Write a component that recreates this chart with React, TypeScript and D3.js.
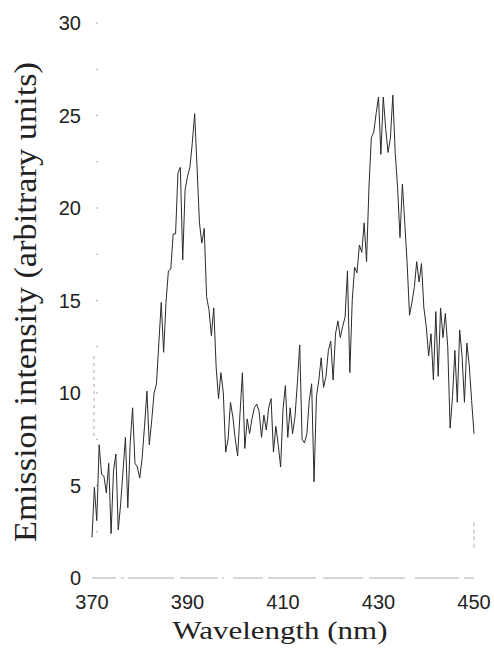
import { useEffect, useRef } from 'react';
import * as d3 from 'd3';

const width = 494;
const height = 649;

// wavelength grid (nm), one reading every 0.5 nm
const wavelengths = d3.range(370, 450.01, 0.5);

// emission intensity (arbitrary units)
const intensity = [
  2.2, 4.9, 3.1, 7.2, 5.6, 5.5, 4.6, 6.2, 2.4, 5.8, // 370 - 374.5
  6.7, 2.6, 4.0, 5.8, 7.6, 3.8, 7.3, 9.2, 6.2, 6.0, // 375 - 379.5
  5.4, 6.5, 8.2, 10.1, 7.2, 8.5, 10.0, 10.5, 12.7, 14.9, // 380 - 384.5
  12.2, 14.9, 16.6, 16.7, 18.6, 18.6, 21.9, 22.2, 17.2, 21.0, // 385 - 389.5
  21.7, 22.2, 23.5, 25.1, 22.2, 19.2, 18.1, 18.9, 15.2, 14.5, // 390 - 394.5
  13.1, 14.6, 11.4, 9.7, 11.1, 10.0, 6.8, 7.5, 9.5, 8.7, // 395 - 399.5
  7.5, 6.6, 8.9, 11.1, 7.0, 8.6, 7.8, 8.6, 9.2, 9.4, // 400 - 404.5
  9.0, 7.6, 8.8, 8.0, 9.2, 9.7, 6.8, 8.2, 7.2, 6.0, // 405 - 409.5
  9.1, 10.4, 7.6, 9.2, 7.8, 8.7, 10.5, 12.6, 7.5, 7.3, // 410 - 414.5
  7.8, 9.6, 10.5, 5.2, 9.8, 10.7, 11.9, 10.3, 10.9, 12.3, // 415 - 419.5
  12.8, 10.7, 13.2, 13.9, 13.0, 13.6, 14.1, 16.6, 11.1, 15.0, // 420 - 424.5
  16.8, 16.5, 18.0, 17.6, 19.2, 17.1, 21.1, 23.8, 24.1, 25.1, // 425 - 429.5
  26.0, 22.9, 26.0, 24.3, 23.0, 23.8, 26.1, 23.0, 21.1, 18.4, // 430 - 434.5
  21.3, 19.2, 17.0, 14.2, 14.9, 15.7, 17.1, 16.0, 17.0, 14.6, // 435 - 439.5
  13.6, 12.0, 13.2, 10.7, 14.4, 10.9, 14.6, 13.0, 14.3, 12.5, // 440 - 444.5
  8.1, 9.8, 12.3, 9.5, 13.4, 12.0, 9.5, 12.7, 11.5, 9.6, // 445 - 449.5
  7.8, // 450
];

const xTicks = [370, 390, 410, 430, 450];
const yTicks = [0, 5, 10, 15, 20, 25, 30];
const yMinorTicks = [2.5, 7.5, 12.5, 17.5, 22.5, 27.5];

const xTitle = 'Wavelength (nm)';
const yTitle = 'Emission intensity (arbitrary units)';

const App = () => {
  const svgRef = useRef(null);

  useEffect(() => {
    const svg = d3.select(svgRef.current);
    svg.selectAll('*').remove();

    const x = d3.scaleLinear().domain([370, 450]).range([92, 474]);
    const y = d3.scaleLinear().domain([0, 30]).range([578, 23]);

    const data = wavelengths.map((w, i) => ({ w, v: intensity[i] }));

    // faint, broken frame lines like the scanned original
    svg.append('line')
      .attr('x1', x(370)).attr('x2', x(450))
      .attr('y1', y(0)).attr('y2', y(0))
      .attr('stroke', '#999')
      .attr('stroke-width', 0.8)
      .attr('stroke-dasharray', '24 5 3 4 46 6 38 4 2 9 30 5 48 7 40 6 36 10 44 5');

    svg.append('line')
      .attr('x1', x(370) + 2).attr('x2', x(370) + 2)
      .attr('y1', y(12)).attr('y2', y(7.5))
      .attr('stroke', '#aaa')
      .attr('stroke-dasharray', '3 4');

    svg.append('line')
      .attr('x1', x(450)).attr('x2', x(450))
      .attr('y1', y(3)).attr('y2', y(1.5))
      .attr('stroke', '#aaa')
      .attr('stroke-dasharray', '4 3');

    // small left tick marks
    svg.selectAll('.ytick')
      .data(yTicks.concat(yMinorTicks).filter(d => d > 0))
      .enter().append('line')
      .attr('class', 'ytick')
      .attr('x1', x(370) + 4).attr('x2', x(370) + 6)
      .attr('y1', d => y(d)).attr('y2', d => y(d))
      .attr('stroke', '#aaa');

    // tick labels
    svg.selectAll('.ylabel')
      .data(yTicks)
      .enter().append('text')
      .attr('class', 'ylabel')
      .attr('x', 81)
      .attr('y', d => y(d))
      .attr('dy', '0.36em')
      .attr('text-anchor', 'end')
      .attr('font-family', 'Liberation Sans, Arial, sans-serif')
      .attr('font-size', '20px')
      .attr('fill', '#222')
      .text(d => d);

    svg.selectAll('.xlabel')
      .data(xTicks)
      .enter().append('text')
      .attr('class', 'xlabel')
      .attr('x', d => x(d))
      .attr('y', 609)
      .attr('text-anchor', 'middle')
      .attr('font-family', 'Liberation Sans, Arial, sans-serif')
      .attr('font-size', '20px')
      .attr('fill', '#222')
      .text(d => d);

    // axis titles
    svg.append('text')
      .attr('x', 280)
      .attr('y', 639)
      .attr('text-anchor', 'middle')
      .attr('font-family', 'Liberation Serif, Times New Roman, serif')
      .attr('font-size', '26px')
      .attr('fill', '#222')
      .attr('textLength', 215)
      .attr('lengthAdjust', 'spacingAndGlyphs')
      .text(xTitle);

    svg.append('text')
      .attr('transform', 'translate(36, 302) rotate(-90)')
      .attr('text-anchor', 'middle')
      .attr('font-family', 'Liberation Serif, Times New Roman, serif')
      .attr('font-size', '32px')
      .attr('fill', '#222')
      .attr('textLength', 480)
      .attr('lengthAdjust', 'spacingAndGlyphs')
      .text(yTitle);

    // spectrum
    const line = d3.line()
      .x(d => x(d.w))
      .y(d => y(d.v));

    svg.append('path')
      .datum(data)
      .attr('d', line)
      .attr('fill', 'none')
      .attr('stroke', '#2a2a2a')
      .attr('stroke-width', 1)
      .attr('stroke-linejoin', 'miter');
  }, []);

  return (
    <svg
      ref={svgRef}
      width={width}
      height={height}
      style={{ position: 'absolute', left: 0, top: 0, background: '#fff' }}
    />
  );
};

export default App;
